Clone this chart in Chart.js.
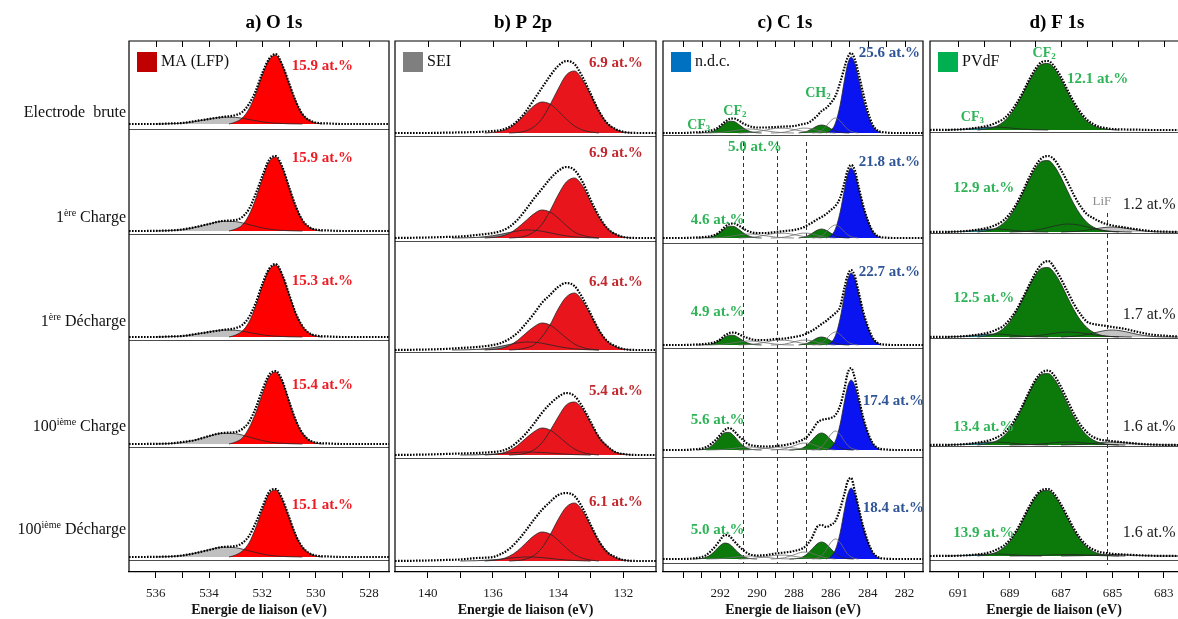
<!DOCTYPE html>
<html>
<head>
<meta charset="utf-8">
<script src="https://cdn.jsdelivr.net/npm/chart.js@4.4.1/dist/chart.umd.min.js"></script>
<style>
  body { margin: 0; background: #fff; width: 1178px; height: 619px; overflow: hidden; position: relative; }
  canvas { position: absolute; top: 0; }
</style>
</head>
<body>
<canvas id="pa" width="392" height="619" style="left:0px"></canvas>
<canvas id="pb" width="267" height="619" style="left:392px"></canvas>
<canvas id="pc" width="268" height="619" style="left:659px"></canvas>
<canvas id="pd" width="251" height="619" style="left:927px"></canvas>
<script>
const FONT = "'Liberation Serif', 'Times New Roman', serif"

const rowNames = [["Electrode  brute"], ["1", "^ère", " Charge"], ["1", "^ère", " Décharge"], ["100", "^ième", " Charge"], ["100", "^ième", " Décharge"]]

// ---------- a) O 1s ----------
const oTicks = [536, 535, 534, 533, 532, 531, 530, 529, 528]
const oTickLabels = ["536", "", "534", "", "532", "", "530", "", "528"]
const oGrid = [537, 536.5, 536, 535.5, 535, 534.5, 534, 533.5, 533, 532.75, 532.5, 532.25, 532, 531.75, 531.5, 531.25, 531, 530.75, 530.5, 530.25, 530, 529.5, 529, 528, 527.25]
const oExp = [
  [0, 0, 0, 0.5, 1, 3, 5, 7, 9, 12, 20, 33, 51, 65, 70, 59, 41, 23, 10, 4, 1.5, 0.5, 0, 0, 0],
  [0, 0, 0.2, 0.5, 1.5, 4, 7, 10, 11, 14, 22, 37, 55, 71, 75, 64, 44, 25, 11, 4, 1.5, 0.5, 0, 0, 0],
  [0, 0, 0, 0.5, 1, 3, 5, 7, 9, 12, 20, 34, 53, 68, 73, 62, 43, 24, 11, 4, 1.5, 0.5, 0, 0, 0],
  [0, 0, 0.2, 0.5, 2, 4, 8, 11, 12, 15, 22, 36, 54, 69, 73, 63, 43, 24, 11, 4, 1.5, 0.5, 0, 0, 0],
  [0, 0, 0.2, 0.5, 1.5, 4, 7, 10, 11, 14, 21, 34, 50, 65, 68, 58, 40, 22, 10, 4, 1.5, 0.5, 0, 0, 0]
]
const oRed = [
  [[533.25, 0], [533, 2], [532.75, 6], [532.5, 15], [532.25, 30], [532, 49], [531.75, 64], [531.5, 69], [531.25, 59], [531, 41], [530.75, 23], [530.5, 10], [530.25, 4], [530, 1], [529.75, 0]],
  [[533.25, 0], [533, 2], [532.75, 6], [532.5, 16], [532.25, 32], [532, 52], [531.75, 69], [531.5, 74], [531.25, 63], [531, 44], [530.75, 25], [530.5, 11], [530.25, 4], [530, 1], [529.75, 0]],
  [[533.25, 0], [533, 2], [532.75, 6], [532.5, 15], [532.25, 31], [532, 51], [531.75, 67], [531.5, 72], [531.25, 62], [531, 43], [530.75, 24], [530.5, 11], [530.25, 4], [530, 1], [529.75, 0]],
  [[533.25, 0], [533, 2], [532.75, 6], [532.5, 16], [532.25, 31], [532, 50], [531.75, 67], [531.5, 72], [531.25, 62], [531, 43], [530.75, 24], [530.5, 11], [530.25, 4], [530, 1], [529.75, 0]],
  [[533.25, 0], [533, 2], [532.75, 6], [532.5, 14], [532.25, 29], [532, 47], [531.75, 63], [531.5, 67], [531.25, 57], [531, 40], [530.75, 22], [530.5, 10], [530.25, 4], [530, 1], [529.75, 0]]
]
const oSei = [
  [[536, 0], [535.5, 0.2], [535, 0.9], [534.5, 2.6], [534, 5], [533.5, 6.8], [533, 6.6], [532.75, 5.7], [532.5, 4.5], [532.25, 3.3], [532, 2.2], [531.75, 1.3], [531.5, 0.8], [531, 0.2], [530.5, 0]],
  [[536, 0], [535.5, 0.4], [535, 1.4], [534.5, 3.7], [534, 7.1], [533.5, 9.7], [533, 9.4], [532.75, 8.1], [532.5, 6.4], [532.25, 4.7], [532, 3.1], [531.75, 1.9], [531.5, 1.1], [531, 0.3], [530.5, 0]],
  [[536, 0], [535.5, 0.3], [535, 1], [534.5, 2.7], [534, 5.1], [533.5, 7], [533, 6.7], [532.75, 5.8], [532.5, 4.6], [532.25, 3.3], [532, 2.2], [531.75, 1.3], [531.5, 0.8], [531, 0.2], [530.5, 0]],
  [[536, 0], [535.5, 0.4], [535, 1.5], [534.5, 4.1], [534, 7.8], [533.5, 10.7], [533, 10.3], [532.75, 8.9], [532.5, 7], [532.25, 5.2], [532, 3.4], [531.75, 2.1], [531.5, 1.2], [531, 0.3], [530.5, 0]],
  [[536, 0], [535.5, 0.4], [535, 1.5], [534.5, 3.9], [534, 7.3], [533.5, 9.8], [533, 9.3], [532.75, 7.9], [532.5, 6.2], [532.25, 4.5], [532, 3], [531.75, 1.8], [531.5, 1], [531, 0.3], [530.5, 0]]
]
const oPct = ["15.9", "15.9", "15.3", "15.4", "15.1"]

// ---------- b) P 2p ----------
const pTicks = [138, 137, 136, 135, 134, 133, 132]
const pTickLabels = ["140", "", "136", "", "134", "", "132"]
const pGrid = [139, 138, 137.5, 137, 136.5, 136, 135.75, 135.5, 135.25, 135, 134.75, 134.5, 134.25, 134, 133.75, 133.5, 133.25, 133, 132.75, 132.5, 132.25, 132, 131.5, 131]
const pExp = [
  [0, 0, 0.3, 0.6, 1, 2, 3, 6, 12, 21, 33, 45, 57, 67, 72, 69, 56, 39, 22, 10, 4, 1.2, 0, 0],
  [0, 0.5, 1, 1.5, 3, 5, 7, 11, 18, 28, 39, 49, 59, 67, 71, 68, 56, 38, 22, 10, 4, 1, 0, 0],
  [0, 0.5, 1, 2, 3, 5, 7, 11, 17, 26, 36, 47, 55, 63, 67, 64, 52, 36, 20, 9, 4, 1, 0, 0],
  [0, 0.5, 1, 1.5, 2, 3, 4, 7, 13, 21, 31, 42, 51, 58, 62, 59, 48, 33, 18, 9, 3, 1, 0, 0],
  [0, 0.5, 1, 1.5, 3, 4, 7, 12, 20, 30, 41, 51, 59, 66, 68, 65, 53, 36, 20, 9, 4, 1, 0, 0]
]
const pMain = [
  [[135.5, 0], [135.25, 0.5], [135, 2], [134.75, 6], [134.5, 14], [134.25, 28], [134, 44], [133.75, 58], [133.5, 62], [133.25, 53], [133, 38], [132.75, 22], [132.5, 10], [132.25, 4], [132, 1], [131.75, 0]],
  [[135.5, 0], [135.25, 0.5], [135, 2], [134.75, 6], [134.5, 13.5], [134.25, 27], [134, 43], [133.75, 56], [133.5, 60], [133.25, 52], [133, 36], [132.75, 21], [132.5, 10], [132.25, 4], [132, 1], [131.75, 0]],
  [[135.5, 0], [135.25, 0.5], [135, 2], [134.75, 5], [134.5, 13], [134.25, 25], [134, 41], [133.75, 53], [133.5, 57], [133.25, 49], [133, 35], [132.75, 20], [132.5, 9], [132.25, 3.5], [132, 1], [131.75, 0]],
  [[135.5, 0], [135.25, 0.4], [135, 1.6], [134.75, 5], [134.5, 12], [134.25, 24], [134, 38], [133.75, 50], [133.5, 53], [133.25, 46], [133, 32], [132.75, 18], [132.5, 9], [132.25, 3], [132, 1], [131.75, 0]],
  [[135.5, 0], [135.25, 0.5], [135, 1.8], [134.75, 5.4], [134.5, 13], [134.25, 26], [134, 41.5], [133.75, 54], [133.5, 58], [133.25, 50], [133, 35], [132.75, 20], [132.5, 9.4], [132.25, 3.5], [132, 1.1], [131.75, 0]]
]
const pSec = [
  [[136.25, 0], [136, 0.6], [135.75, 2], [135.5, 5], [135.25, 11], [135, 19], [134.75, 27], [134.5, 31], [134.25, 29], [134, 22], [133.75, 14], [133.5, 7], [133.25, 3], [133, 1], [132.75, 0]],
  [[136.25, 0], [136, 0.5], [135.75, 1.7], [135.5, 4.5], [135.25, 10], [135, 17], [134.75, 24], [134.5, 28], [134.25, 26], [134, 20], [133.75, 12.5], [133.5, 6], [133.25, 2.6], [133, 0.9], [132.75, 0]],
  [[136.25, 0], [136, 0.5], [135.75, 1.6], [135.5, 4.4], [135.25, 9.4], [135, 16.4], [134.75, 23], [134.5, 27], [134.25, 25], [134, 19], [133.75, 12], [133.5, 6], [133.25, 2.5], [133, 0.8], [132.75, 0]],
  [[136.25, 0], [136, 0.5], [135.75, 1.6], [135.5, 4.4], [135.25, 9.4], [135, 16.4], [134.75, 23], [134.5, 27], [134.25, 25], [134, 19], [133.75, 12], [133.5, 6], [133.25, 2.5], [133, 0.8], [132.75, 0]],
  [[136.25, 0], [136, 0.6], [135.75, 1.8], [135.5, 4.7], [135.25, 10], [135, 17.6], [134.75, 25], [134.5, 29], [134.25, 27], [134, 20.8], [133.75, 12.9], [133.5, 6.5], [133.25, 2.7], [133, 0.9], [132.75, 0]]
]
const pSei = [
  [],
  [[137.25, 0], [137, 0.1], [136.5, 0.6], [136, 2.3], [135.75, 3.8], [135.5, 5.5], [135.25, 7], [135, 8], [134.75, 7.8], [134.5, 6.8], [134.25, 5.2], [134, 3.5], [133.75, 2.1], [133.5, 1.1], [133.25, 0.5], [133, 0.2], [132.75, 0]],
  [[137.25, 0], [137, 0.1], [136.5, 0.6], [136, 2.3], [135.75, 3.8], [135.5, 5.5], [135.25, 7], [135, 8], [134.75, 7.8], [134.5, 6.8], [134.25, 5.2], [134, 3.5], [133.75, 2.1], [133.5, 1.1], [133.25, 0.5], [133, 0.2], [132.75, 0]],
  [[137, 0], [136.5, 0.2], [136, 0.9], [135.75, 1.4], [135.5, 2.1], [135.25, 2.6], [135, 3], [134.75, 2.9], [134.5, 2.5], [134.25, 2], [134, 1.3], [133.75, 0.8], [133.5, 0.4], [133.25, 0.2], [133, 0]],
  [[137, 0], [136.5, 0.3], [136, 1.2], [135.75, 1.9], [135.5, 2.8], [135.25, 3.5], [135, 4], [134.75, 3.9], [134.5, 3.4], [134.25, 2.6], [134, 1.7], [133.75, 1], [133.5, 0.5], [133.25, 0.2], [133, 0]]
]
const pPct = ["6.9", "6.9", "6.4", "5.4", "6.1"]

// ---------- c) C 1s ----------
const cTicks = [294, 293, 292, 291, 290, 289, 288, 287, 286, 285, 284, 283, 282]
const cTickLabels = ["", "", "292", "", "290", "", "288", "", "286", "", "284", "", "282"]
const cGrid = [295.1, 294, 293.5, 293, 292.75, 292.5, 292.25, 292, 291.75, 291.5, 291.25, 291, 290.75, 290.5, 290.25, 290, 289.5, 289, 288.5, 288, 287.5, 287.25, 287, 286.75, 286.5, 286.25, 286, 285.75, 285.5, 285.25, 285.1, 284.9, 284.7, 284.5, 284.25, 284, 283.75, 283.5, 283, 282.5, 281]
const cExp = [
  [0, 0, 0.5, 1, 1.5, 2.5, 4, 7, 11, 14, 14.5, 12.5, 9.5, 7.5, 6, 5.5, 5.5, 6, 6.5, 7, 9, 10, 13, 17, 22, 25, 30, 37, 50, 66, 75, 80, 74, 60, 40, 22, 9, 3, 0.5, 0, 0],
  [0, 0, 0.3, 0.8, 1.2, 2, 3.5, 6.5, 11, 14, 14.5, 12.5, 9.5, 7, 5.5, 5, 5, 6, 7, 8, 10.5, 13, 15.5, 18.5, 21, 24, 28, 32, 40, 56, 67, 73, 68, 52, 33, 18, 7.5, 2.5, 0.3, 0, 0],
  [0, 0, 0.3, 0.8, 1.2, 1.8, 3, 5.5, 9.5, 12, 12.5, 11, 8.5, 7, 5.5, 5, 5, 6, 6.5, 8, 10, 12, 14.5, 17.5, 21, 24, 28, 32, 38, 58, 69, 75, 69, 54, 34, 19, 8, 2.5, 0.3, 0, 0],
  [0, 0, 0.5, 1.5, 3, 6, 10, 15, 20, 22, 19, 14, 10, 6, 4.5, 4, 3.5, 4, 5, 7, 10.5, 14, 20, 27, 30, 31, 32, 35, 44, 62, 76, 82, 72, 54, 33, 18, 7.5, 2.5, 0.5, 0, 0],
  [0, 0, 0.5, 2, 4, 8, 13, 19, 24, 23, 18, 13, 9, 5.5, 4, 3.5, 4, 5.5, 6.5, 8, 11, 15, 22, 32, 34, 32, 34, 38, 50, 66, 77, 81, 68, 52, 33, 18, 7.5, 2.5, 0.3, 0, 0]
]
const cCF2 = [
  [[293.25, 0], [293, 0.1], [292.75, 0.3], [292.5, 1.1], [292.25, 2.8], [292, 5.8], [291.75, 9.4], [291.5, 11.8], [291.25, 11.5], [291, 8.7], [290.75, 5.2], [290.5, 2.4], [290.25, 0.9], [290, 0.2], [289.75, 0]],
  [[293.25, 0], [293, 0.1], [292.75, 0.3], [292.5, 1.1], [292.25, 2.8], [292, 5.8], [291.75, 9.4], [291.5, 11.8], [291.25, 11.5], [291, 8.7], [290.75, 5.2], [290.5, 2.4], [290.25, 0.9], [290, 0.2], [289.75, 0]],
  [[293.25, 0], [293, 0.1], [292.75, 0.3], [292.5, 0.9], [292.25, 2.4], [292, 4.9], [291.75, 7.8], [291.5, 9.8], [291.25, 9.6], [291, 7.3], [290.75, 4.3], [290.5, 2], [290.25, 0.7], [290, 0.2], [289.75, 0]],
  [[293.25, 0], [293, 0.4], [292.75, 1.3], [292.5, 3.6], [292.25, 7.7], [292, 13.1], [291.75, 17.2], [291.5, 17.6], [291.25, 14.1], [291, 8.8], [290.75, 4.2], [290.5, 1.6], [290.25, 0.5], [290, 0.1], [289.75, 0]],
  [[293.5, 0], [293, 0.5], [292.75, 1.8], [292.5, 4.4], [292.25, 8.7], [292, 13.4], [291.75, 15.9], [291.5, 14.8], [291.25, 10.7], [291, 6], [290.75, 2.6], [290.5, 0.9], [290.25, 0.2], [290, 0]]
]
const cW1 = [
  [[292.75, 0], [292.5, 0.1], [292.25, 0.3], [292, 0.5], [291.75, 1], [291.5, 1.6], [291.25, 2.3], [291, 3], [290.75, 3.6], [290.5, 4], [290.25, 3.9], [290, 3.5], [289.5, 2.1], [289, 0.9], [288.5, 0.2], [288, 0]],
  [[292.75, 0], [292.5, 0.1], [292.25, 0.3], [292, 0.5], [291.75, 1], [291.5, 1.6], [291.25, 2.3], [291, 3], [290.75, 3.6], [290.5, 4], [290.25, 3.9], [290, 3.5], [289.5, 2.1], [289, 0.9], [288.5, 0.2], [288, 0]],
  [[292.75, 0], [292.5, 0.1], [292.25, 0.3], [292, 0.5], [291.75, 1], [291.5, 1.6], [291.25, 2.3], [291, 3], [290.75, 3.6], [290.5, 4], [290.25, 3.9], [290, 3.5], [289.5, 2.1], [289, 0.9], [288.5, 0.2], [288, 0]],
  [[292.75, 0], [292.5, 0.1], [292.25, 0.2], [292, 0.4], [291.75, 0.7], [291.5, 1.2], [291.25, 1.7], [291, 2.3], [290.75, 2.7], [290.5, 3], [290.25, 2.9], [290, 2.6], [289.5, 1.6], [289, 0.6], [288.5, 0.2], [288, 0]],
  [[292.75, 0], [292.5, 0.1], [292.25, 0.2], [292, 0.4], [291.75, 0.7], [291.5, 1.2], [291.25, 1.7], [291, 2.3], [290.75, 2.7], [290.5, 3], [290.25, 2.9], [290, 2.6], [289.5, 1.6], [289, 0.6], [288.5, 0.2], [288, 0]]
]
const cW2 = [
  [[291, 0], [290.75, 0.2], [290.5, 0.4], [290.25, 0.8], [290, 1.3], [289.5, 3], [289, 4.7], [288.5, 4.8], [288, 3.4], [287.5, 1.6], [287.25, 1], [287, 0.5], [286.75, 0.3], [286.5, 0]],
  [[291, 0], [290.75, 0.2], [290.5, 0.4], [290.25, 0.8], [290, 1.3], [289.5, 3], [289, 4.7], [288.5, 4.8], [288, 3.4], [287.5, 1.6], [287.25, 1], [287, 0.5], [286.75, 0.3], [286.5, 0]],
  [[291, 0], [290.75, 0.2], [290.5, 0.4], [290.25, 0.8], [290, 1.3], [289.5, 3], [289, 4.7], [288.5, 4.8], [288, 3.4], [287.5, 1.6], [287.25, 1], [287, 0.5], [286.75, 0.3], [286.5, 0]],
  [[291, 0], [290.75, 0.1], [290.5, 0.2], [290.25, 0.5], [290, 0.8], [289.5, 1.8], [289, 2.8], [288.5, 2.9], [288, 2], [287.5, 1], [287.25, 0.6], [287, 0.3], [286.75, 0.2], [286.5, 0]],
  [[291, 0], [290.75, 0.15], [290.5, 0.3], [290.25, 0.6], [290, 1.1], [289.5, 2.4], [289, 3.7], [288.5, 3.9], [288, 2.7], [287.5, 1.3], [287.25, 0.8], [287, 0.4], [286.75, 0.2], [286.5, 0]]
]
const cW3 = [
  [[289.25, 0], [289, 0.1], [288.5, 0.9], [288, 3], [287.5, 4.9], [287.25, 4.8], [287, 4], [286.75, 2.8], [286.5, 1.6], [286.25, 0.8], [286, 0.3], [285.75, 0]],
  [[289.25, 0], [289, 0.1], [288.5, 0.9], [288, 3], [287.5, 4.9], [287.25, 4.8], [287, 4], [286.75, 2.8], [286.5, 1.6], [286.25, 0.8], [286, 0.3], [285.75, 0]],
  [[289.25, 0], [289, 0.1], [288.5, 0.9], [288, 3], [287.5, 4.9], [287.25, 4.8], [287, 4], [286.75, 2.8], [286.5, 1.6], [286.25, 0.8], [286, 0.3], [285.75, 0]],
  [[289.25, 0], [289, 0.2], [288.5, 1.3], [288, 4.2], [287.5, 6.9], [287.25, 6.8], [287, 5.6], [286.75, 3.9], [286.5, 2.3], [286.25, 1.1], [286, 0.5], [285.75, 0]],
  [[289.25, 0], [289, 0.2], [288.5, 1.3], [288, 4.2], [287.5, 6.9], [287.25, 6.8], [287, 5.6], [286.75, 3.9], [286.5, 2.3], [286.25, 1.1], [286, 0.5], [285.75, 0]]
]
const cCH2 = [
  [[287.75, 0], [287.5, 0.7], [287.25, 2], [287, 4.3], [286.75, 6.9], [286.5, 8], [286.25, 6.9], [286, 4.3], [285.75, 2], [285.5, 0.7], [285.25, 0.2], [285, 0]],
  [[287.75, 0], [287.5, 0.8], [287.25, 2.2], [287, 4.9], [286.75, 7.7], [286.5, 9], [286.25, 7.7], [286, 4.9], [285.75, 2.2], [285.5, 0.8], [285.25, 0.2], [285, 0]],
  [[287.75, 0], [287.5, 0.7], [287.25, 2], [287, 4.3], [286.75, 6.9], [286.5, 8], [286.25, 6.9], [286, 4.3], [285.75, 2], [285.5, 0.7], [285.25, 0.2], [285, 0]],
  [[288.25, 0], [288, 0.2], [287.75, 0.7], [287.5, 2.3], [287.25, 5.5], [287, 10.3], [286.75, 15], [286.5, 17], [286.25, 15], [286, 10.3], [285.75, 5.5], [285.5, 2.3], [285.25, 0.7], [285, 0.2], [284.75, 0]],
  [[288.25, 0], [288, 0.2], [287.75, 0.7], [287.5, 2.3], [287.25, 5.5], [287, 10.3], [286.75, 15], [286.5, 17], [286.25, 15], [286, 10.3], [285.75, 5.5], [285.5, 2.3], [285.25, 0.7], [285, 0.2], [284.75, 0]]
]
const cW4 = [
  [[287, 0], [286.75, 0.7], [286.5, 2.6], [286.25, 6.9], [286, 12.3], [285.75, 15], [285.5, 12.3], [285.25, 6.9], [285.1, 4], [284.9, 1.6], [284.7, 0.5], [284.5, 0]],
  [[287, 0], [286.75, 0.6], [286.5, 2.2], [286.25, 6], [286, 10.7], [285.75, 13], [285.5, 10.7], [285.25, 6], [285.1, 3.5], [284.9, 1.4], [284.7, 0.4], [284.5, 0]],
  [[287, 0], [286.75, 0.6], [286.5, 2.2], [286.25, 6], [286, 10.7], [285.75, 13], [285.5, 10.7], [285.25, 6], [285.1, 3.5], [284.9, 1.4], [284.7, 0.4], [284.5, 0]],
  [[287, 0], [286.75, 0.8], [286.5, 3.3], [286.25, 8.7], [286, 15.6], [285.75, 19], [285.5, 15.6], [285.25, 8.7], [285.1, 5.1], [284.9, 2], [284.7, 0.6], [284.5, 0]],
  [[287, 0], [286.75, 0.9], [286.5, 3.4], [286.25, 9.2], [286, 16.5], [285.75, 20], [285.5, 16.5], [285.25, 9.2], [285.1, 5.3], [284.9, 2.1], [284.7, 0.6], [284.5, 0]]
]
const cNdc = [
  [[286.25, 0], [286, 2.4], [285.75, 9.8], [285.5, 27.4], [285.25, 53.7], [285.1, 67.9], [284.9, 76], [284.7, 70], [284.5, 54.7], [284.25, 34.2], [284, 19], [283.75, 7.6], [283.5, 2.3], [283.25, 0]],
  [[286.25, 0], [286, 2.2], [285.75, 9], [285.5, 25.3], [285.25, 49.5], [285.1, 62.5], [284.9, 70], [284.7, 64.4], [284.5, 50.4], [284.25, 31.5], [284, 17.5], [283.75, 7], [283.5, 2.1], [283.25, 0]],
  [[286.25, 0], [286, 2.3], [285.75, 9.3], [285.5, 26], [285.25, 50.9], [285.1, 64.3], [284.9, 72], [284.7, 66.2], [284.5, 51.8], [284.25, 32.4], [284, 18], [283.75, 7.2], [283.5, 2.2], [283.25, 0]],
  [[286.25, 0], [286, 2.2], [285.75, 9], [285.5, 25.3], [285.25, 49.5], [285.1, 62.5], [284.9, 70], [284.7, 64.4], [284.5, 50.4], [284.25, 31.5], [284, 17.5], [283.75, 7], [283.5, 2.1], [283.25, 0]],
  [[286.25, 0], [286, 2.3], [285.75, 9.2], [285.5, 25.6], [285.25, 50.2], [285.1, 63.4], [284.9, 71], [284.7, 65.3], [284.5, 51.1], [284.25, 32], [284, 17.8], [283.75, 7.1], [283.5, 2.1], [283.25, 0]]
]
const cPctNdc = ["25.6", "21.8", "22.7", "17.4", "18.4"]
const cPctF = ["5.0", "4.6", "4.9", "5.6", "5.0"]

// ---------- d) F 1s ----------
const fTicks = [691, 690, 689, 688, 687, 686, 685, 684, 683]
const fTickLabels = ["691", "", "689", "", "687", "", "685", "", "683"]
const fGrid = [692.1, 691, 690.5, 690, 689.75, 689.5, 689.25, 689, 688.75, 688.5, 688.25, 688, 687.75, 687.5, 687.25, 687, 686.75, 686.5, 686.25, 686, 685.75, 685.5, 685.25, 685, 684.5, 684, 683.5, 682.45]
const fExp = [
  [0, 0.5, 1.5, 3.5, 5, 7.5, 11, 17, 26, 37, 50, 61, 68, 69, 63, 53, 40, 28, 18, 10.5, 6, 3, 2, 1, 0.5, 0.3, 0, 0],
  [0, 0.5, 1.5, 3.5, 5, 7.5, 11.5, 18, 27.5, 40, 54, 66, 74, 76, 72, 62, 50, 37, 26, 18, 14, 10.5, 8, 6.5, 4.5, 2.5, 1, 0],
  [0, 0.5, 1.5, 3.5, 5, 7.5, 11, 17.5, 26.5, 38.5, 51.5, 64, 73, 76, 69, 58, 45.5, 33, 23, 15.5, 13, 12, 11, 10, 8, 5, 2.5, 0.5],
  [0, 0.5, 1.5, 3.5, 5, 7.5, 11.5, 18, 27.5, 39.5, 53, 65, 72.5, 74.5, 69, 58, 44.5, 31.5, 20.5, 13, 8, 5.5, 4.5, 3.8, 2.5, 1.3, 0.5, 0],
  [0, 0.3, 1, 2.5, 4, 6.5, 10, 16, 25, 36.5, 49, 59.5, 66, 67, 61.5, 51.5, 39.5, 27.5, 17.5, 10.5, 6.5, 4, 3, 2.2, 1.4, 0.8, 0.3, 0]
]
const fCF2 = [
  [[690.25, 0], [690, 0.7], [689.75, 1.8], [689.5, 4], [689.25, 8], [689, 14.5], [688.75, 23.9], [688.5, 35.6], [688.25, 48.2], [688, 59.1], [687.75, 65.9], [687.5, 66.5], [687.25, 60.9], [687, 50.6], [686.75, 38.1], [686.5, 26.1], [686.25, 16.1], [686, 9], [685.75, 4.6], [685.5, 2.1], [685.25, 0.9], [685, 0.3], [684.75, 0]],
  [[690.25, 0], [690, 0.8], [689.75, 1.9], [689.5, 4.3], [689.25, 8.6], [689, 15.6], [688.75, 25.6], [688.5, 38.2], [688.25, 51.8], [688, 63.5], [687.75, 70.8], [687.5, 71.4], [687.25, 65.4], [687, 54.4], [686.75, 41], [686.5, 28], [686.25, 17.4], [686, 9.7], [685.75, 5], [685.5, 2.3], [685.25, 0.9], [685, 0.4], [684.75, 0]],
  [[690.25, 0], [690, 0.8], [689.75, 1.9], [689.5, 4.2], [689.25, 8.3], [689, 15.1], [688.75, 24.9], [688.5, 37.2], [688.25, 50.3], [688, 61.7], [687.75, 68.8], [687.5, 69.4], [687.25, 63.6], [687, 52.9], [686.75, 39.8], [686.5, 27.2], [686.25, 16.9], [686, 9.5], [685.75, 4.8], [685.5, 2.2], [685.25, 0.9], [685, 0.4], [684.75, 0]],
  [[690.25, 0], [690, 0.8], [689.75, 1.9], [689.5, 4.3], [689.25, 8.6], [689, 15.6], [688.75, 25.6], [688.5, 38.2], [688.25, 51.8], [688, 63.5], [687.75, 70.8], [687.5, 71.4], [687.25, 65.4], [687, 54.4], [686.75, 41], [686.5, 28], [686.25, 17.4], [686, 9.7], [685.75, 5], [685.5, 2.3], [685.25, 0.9], [685, 0.4], [684.75, 0]],
  [[690.25, 0], [690, 0.7], [689.75, 1.8], [689.5, 4], [689.25, 7.9], [689, 14.3], [688.75, 23.5], [688.5, 35], [688.25, 47.5], [688, 58.2], [687.75, 64.9], [687.5, 65.5], [687.25, 60], [687, 49.8], [686.75, 37.6], [686.5, 25.7], [686.25, 15.9], [686, 8.9], [685.75, 4.6], [685.5, 2.1], [685.25, 0.9], [685, 0.3], [684.75, 0]]
]
const fCF3 = [
  [[691.5, 0], [691, 0.4], [690.5, 1.3], [690, 2.6], [689.75, 2.9], [689.5, 3], [689.25, 2.6], [689, 2.1], [688.75, 1.4], [688.5, 0.9], [688.25, 0.5], [688, 0.2], [687.75, 0.1], [687.5, 0]],
  [[691.5, 0], [691, 0.4], [690.5, 1.3], [690, 2.6], [689.75, 2.9], [689.5, 3], [689.25, 2.6], [689, 2.1], [688.75, 1.4], [688.5, 0.9], [688.25, 0.5], [688, 0.2], [687.75, 0.1], [687.5, 0]],
  [[691.5, 0], [691, 0.4], [690.5, 1.3], [690, 2.6], [689.75, 2.9], [689.5, 3], [689.25, 2.6], [689, 2.1], [688.75, 1.4], [688.5, 0.9], [688.25, 0.5], [688, 0.2], [687.75, 0.1], [687.5, 0]],
  [[691.5, 0], [691, 0.4], [690.5, 1.3], [690, 2.6], [689.75, 2.9], [689.5, 3], [689.25, 2.6], [689, 2.1], [688.75, 1.4], [688.5, 0.9], [688.25, 0.5], [688, 0.2], [687.75, 0.1], [687.5, 0]],
  [[691.5, 0], [691, 0.3], [690.5, 0.9], [690, 1.7], [689.75, 2], [689.5, 2], [689.25, 1.8], [689, 1.4], [688.75, 1], [688.5, 0.6], [688.25, 0.3], [688, 0.1], [687.75, 0]]
]
const fDark = [
  [],
  [[689, 0], [688.5, 0.4], [688.25, 0.9], [688, 1.8], [687.75, 3], [687.5, 4.5], [687.25, 6.1], [687, 7.4], [686.75, 8], [686.5, 7.7], [686.25, 6.7], [686, 5.2], [685.75, 3.6], [685.5, 2.2], [685.25, 1.2], [685, 0.6], [684.5, 0.1], [684.25, 0]],
  [[689, 0], [688.5, 0.3], [688.25, 0.6], [688, 1.1], [687.75, 1.9], [687.5, 2.8], [687.25, 3.8], [687, 4.6], [686.75, 5], [686.5, 4.8], [686.25, 4.2], [686, 3.2], [685.75, 2.2], [685.5, 1.4], [685.25, 0.8], [685, 0.4], [684.5, 0.1], [684.25, 0]],
  [[689, 0], [688.5, 0.2], [688.25, 0.4], [688, 0.7], [687.75, 1.1], [687.5, 1.7], [687.25, 2.3], [687, 2.8], [686.75, 3], [686.5, 2.9], [686.25, 2.5], [686, 1.9], [685.75, 1.3], [685.5, 0.8], [685.25, 0.5], [685, 0.2], [684.5, 0]],
  [[689, 0], [688.5, 0.1], [688.25, 0.2], [688, 0.4], [687.75, 0.6], [687.5, 0.9], [687.25, 1.2], [687, 1.4], [686.75, 1.5], [686.5, 1.5], [686.25, 1.3], [686, 1], [685.75, 0.7], [685.5, 0.4], [685.25, 0.2], [685, 0.1], [684.5, 0]]
]
const fLiF = [
  [],
  [[687, 0], [686.5, 0.5], [686.25, 1], [686, 1.8], [685.75, 2.8], [685.5, 3.9], [685.25, 4.7], [685, 5], [684.5, 3.9], [684, 1.8], [683.5, 0.5], [683, 0.1], [682.45, 0]],
  [[687, 0], [686.5, 0.7], [686.25, 1.4], [686, 2.5], [685.75, 3.9], [685.5, 5.4], [685.25, 6.6], [685, 7], [684.5, 5.4], [684, 2.5], [683.5, 0.7], [683, 0.1], [682.45, 0]],
  [[687, 0], [686.5, 0.3], [686.25, 0.6], [686, 1.1], [685.75, 1.7], [685.5, 2.3], [685.25, 2.8], [685, 3], [684.5, 2.3], [684, 1.1], [683.5, 0.3], [683, 0.1], [682.45, 0]],
  [[687, 0], [686.5, 0.2], [686.25, 0.3], [686, 0.5], [685.75, 0.8], [685.5, 1.2], [685.25, 1.4], [685, 1.5], [684.5, 1.2], [684, 0.5], [683.5, 0.2], [683, 0], [682.45, 0]]
]
const fPctF = ["12.1", "12.9", "12.5", "13.4", "13.9"]
const fPctLiF = ["", "1.2", "1.7", "1.6", "1.6"]

const red = "#ee1c24", darkRed = "#c1272d", steel = "#2f5597", lightGreen = "#2fb457"

const panels = [
  {
    canvas: "pa", min: 527.25, max: 537, pad: [129, 3], ticks: oTicks, tickLabels: oTickLabels,
    title: "a) O 1s", titleX: 145, legend: ["MA (LFP)", "#c00000"], right: true, rowLabels: true,
    base: [448, 341, 235, 128, 15], seps: [443, 338, 232, 125, 12], vlines: [],
    grid: oGrid, exp: oExp,
    comps: [{ rows: oSei, fill: "#c0c0c0" }, { rows: oRed, fill: "#ff0000" }],
    notes: oPct.map((v, r) => ({ row: r, x: 530.9, h: [58, 73, 56, 59, 52][r], text: [v + " at.%"], color: red, size: 15, bold: true }))
  },
  {
    canvas: "pb", min: 131, max: 139, pad: [3, 3], ticks: pTicks, tickLabels: pTickLabels,
    title: "b) P 2p", titleX: 128, legend: ["SEI", "#7f7f7f"], right: true,
    base: [439, 334, 222, 117, 11], seps: [436, 331, 220, 114, 6], vlines: [],
    grid: pGrid, exp: pExp,
    comps: [{ rows: pSei, fill: "#808080" }, { rows: pSec, fill: "#e8151d" }, { rows: pMain, fill: "#e8151d" }],
    notes: pPct.map((v, r) => ({ row: r, x: 133.05, h: [70, 85, 68, 64, 59][r], text: [v + " at.%"], color: darkRed, size: 15, bold: true }))
  },
  {
    canvas: "pc", min: 281, max: 295.1, pad: [4, 4], ticks: cTicks, tickLabels: cTickLabels,
    title: "c) C 1s", titleX: 122, legend: ["n.d.c.", "#0070c0"], right: true,
    base: [439, 334, 227, 122, 13], seps: [437, 329, 224, 115, 9],
    vlines: [[290.76, 430, 9], [288.92, 430, 9], [287.35, 430, 9]],
    grid: cGrid, exp: cExp,
    comps: [
      { rows: cCF2, fill: "#0b7a0b" }, { rows: cCH2, fill: "#0b7a0b" }, { rows: cNdc, fill: "#0a14f0" },
      { rows: cW1 }, { rows: cW2 }, { rows: cW3 }, { rows: cW4 }
    ],
    notes: [
      ...cPctNdc.map((v, r) => ({ row: r, x: r < 3 ? 284.49 : 284.27, h: [80, 76, 73, 49, 51][r], text: [v + " at.%"], color: steel, size: 15, bold: true })),
      ...cPctF.map((v, r) => ({ row: r, x: r ? 293.6 : 291.57, h: [-14, 18, 33, 30, 29][r], text: [v + " at.%"], color: lightGreen, size: 15, bold: true })),
      { row: 0, x: 293.16, h: 8, text: ["CF", "_3"], color: lightGreen, size: 14, bold: true, align: "center" },
      { row: 0, x: 291.2, h: 22, text: ["CF", "_2"], color: lightGreen, size: 14, bold: true, align: "center" },
      { row: 0, x: 286.7, h: 40, text: ["CH", "_2"], color: lightGreen, size: 14, bold: true, align: "center" }
    ]
  },
  {
    canvas: "pd", min: 682.45, max: 692.1, pad: [3, 0], ticks: fTicks, tickLabels: fTickLabels,
    title: "d) F 1s", titleX: 127, legend: ["PVdF", "#00b050"], right: false,
    base: [442, 340, 235, 127, 16], seps: [440, 339, 234, 126, 12],
    vlines: [[685.2, 359, 7]],
    grid: fGrid, exp: fExp,
    comps: [{ rows: fLiF, fill: "#c4c4c4" }, { rows: fDark, fill: "#404040" }, { rows: fCF3, fill: "#1f7c86" }, { rows: fCF2, fill: "#0b7a0b" }],
    notes: [
      ...fPctF.map((v, r) => ({ row: r, x: r ? 691.2 : 686.77, h: [51, 44, 39, 18, 23][r], text: [v + " at.%"], color: lightGreen, size: 15, bold: true })),
      ...fPctLiF.filter(v => v).map((v, i) => ({ row: i + 1, x: 684.6, h: [27, 22, 18, 23][i], text: [v + " at.%"], color: "#222", size: 16, bold: false })),
      { row: 1, x: 685.41, h: 30, text: ["LiF"], color: "#8c8c8c", size: 13, bold: false, align: "center" },
      { row: 0, x: 687.66, h: 77, text: ["CF", "_2"], color: lightGreen, size: 14, bold: true, align: "center" },
      { row: 0, x: 690.45, h: 13, text: ["CF", "_3"], color: lightGreen, size: 14, bold: true, align: "center" }
    ]
  }
]

// label heights of the row names (left of panel a), in row units above each baseline
const rowLabelH = [11, 13, 15, 17, 27]

function drawRuns(ctx, runs, x, y, size, weight, align) {
  const parts = runs.map(r => {
    const sup = r[0] === "^", sub = r[0] === "_"
    const t = sup || sub ? r.slice(1) : r
    const s = sup || sub ? Math.round(size * 0.62) : size
    ctx.font = `${weight} ${s}px ${FONT}`
    return { t, s, dy: sup ? -size * 0.3 : sub ? size * 0.25 : 0, w: ctx.measureText(t).width }
  })
  const total = parts.reduce((a, p) => a + p.w, 0)
  let cx = align === "right" ? x - total : align === "center" ? x - total / 2 : x
  ctx.textAlign = "left"
  ctx.textBaseline = "middle"
  parts.forEach(p => {
    ctx.font = `${weight} ${p.s}px ${FONT}`
    ctx.fillText(p.t, cx, y + p.dy)
    cx += p.w
  })
}

function deco(p) {
  return {
    id: "deco",
    beforeDatasetsDraw(chart) {
      const { ctx, chartArea: a, scales: { x, y } } = chart
      ctx.save()
      ctx.lineWidth = 1
      ctx.strokeStyle = "#4d4d4d"
      p.seps.forEach(v => {
        const py = Math.round(y.getPixelForValue(v)) + 0.5
        ctx.beginPath(); ctx.moveTo(a.left, py); ctx.lineTo(a.right, py); ctx.stroke()
      })
      ctx.setLineDash([4, 3])
      ctx.strokeStyle = "#333"
      p.vlines.forEach(([e, y0, y1]) => {
        const px = Math.round(x.getPixelForValue(e)) + 0.5
        ctx.beginPath(); ctx.moveTo(px, y.getPixelForValue(y0)); ctx.lineTo(px, y.getPixelForValue(y1)); ctx.stroke()
      })
      ctx.restore()
    },
    afterDraw(chart) {
      const { ctx, chartArea: a, scales: { x, y } } = chart
      ctx.save()
      ctx.strokeStyle = "#000"
      ctx.lineWidth = 1.2
      ctx.beginPath()
      ctx.moveTo(a.left, a.bottom); ctx.lineTo(a.left, a.top); ctx.lineTo(a.right, a.top)
      if (p.right) ctx.lineTo(a.right, a.bottom)
      ctx.stroke()
      ctx.lineWidth = 1
      x.ticks.forEach(t => {
        const px = Math.round(x.getPixelForValue(t.value)) + 0.5
        ctx.beginPath(); ctx.moveTo(px, a.top); ctx.lineTo(px, a.top + 6); ctx.stroke()
      })
      ctx.fillStyle = "#000"
      drawRuns(ctx, [p.title], a.left + p.titleX, 23, 19, "bold", "center")
      ctx.fillStyle = p.legend[1]
      ctx.fillRect(a.left + 8, a.top + 11, 20, 20)
      ctx.fillStyle = "#111"
      drawRuns(ctx, [p.legend[0]], a.left + 32, a.top + 21, 16, "normal", "left")
      p.notes.forEach(n => {
        ctx.fillStyle = n.color
        drawRuns(ctx, n.text, x.getPixelForValue(n.x), y.getPixelForValue(p.base[n.row] + n.h), n.size, n.bold ? "bold" : "normal", n.align || "left")
      })
      if (p.rowLabels) {
        ctx.fillStyle = "#111"
        rowNames.forEach((runs, r) => drawRuns(ctx, runs, a.left - 3, y.getPixelForValue(p.base[r] + rowLabelH[r]), 16, "normal", "right"))
      }
      ctx.restore()
    }
  }
}

function shift(pairs, base) {
  return pairs.map(([x, v]) => ({ x, y: v + base }))
}

function buildDatasets(p) {
  const sets = []
  p.base.forEach((base, r) => {
    p.comps.forEach(c => {
      if (!c.fill || !c.rows[r].length) return
      sets.push({ data: shift(c.rows[r], base), fill: { value: base }, backgroundColor: c.fill, borderColor: "rgba(0,0,0,0)", borderWidth: 1 })
    })
    p.comps.forEach(c => {
      if (!c.rows[r].length) return
      sets.push({ data: shift(c.rows[r], base), fill: false, borderColor: c.fill ? "#262626" : "#707070", borderWidth: 0.8 })
    })
    sets.push({
      data: p.grid.map((x, i) => ({ x, y: p.exp[r][i] + base })),
      fill: false, borderColor: "#000", borderWidth: 2.2, borderDash: [1.6, 1.4]
    })
  })
  // Chart.js paints the first dataset last (on top), so flip the paint order
  return sets.reverse()
}

panels.forEach(p => {
  new Chart(document.getElementById(p.canvas), {
    type: "line",
    data: { datasets: buildDatasets(p) },
    options: {
      responsive: false,
      animation: false,
      events: [],
      layout: { padding: { left: p.pad[0], right: p.pad[1], top: 41, bottom: 0 } },
      elements: { point: { radius: 0 }, line: { cubicInterpolationMode: "monotone" } },
      plugins: { legend: { display: false }, tooltip: { enabled: false } },
      scales: {
        x: {
          type: "linear", reverse: true, min: p.min, max: p.max,
          afterBuildTicks: s => { s.ticks = p.ticks.map(v => ({ value: v })) },
          afterFit: s => { s.height = 47; s.paddingLeft = 0; s.paddingRight = 0 },
          ticks: {
            autoSkip: false, maxRotation: 0, padding: 8, color: "#1a1a1a",
            font: { family: FONT, size: 13 },
            callback: (v, i) => p.tickLabels[i]
          },
          grid: { drawOnChartArea: false, tickLength: 6, color: "#000" },
          border: { color: "#000", width: 1.2 },
          title: { display: true, text: "Energie de liaison (eV)", color: "#111", font: { family: FONT, size: 14, weight: "bold" }, padding: { top: 0, bottom: 0 } }
        },
        y: { display: false, min: 0, max: 531 }
      }
    },
    plugins: [deco(p)]
  })
})
</script>
</body>
</html>
